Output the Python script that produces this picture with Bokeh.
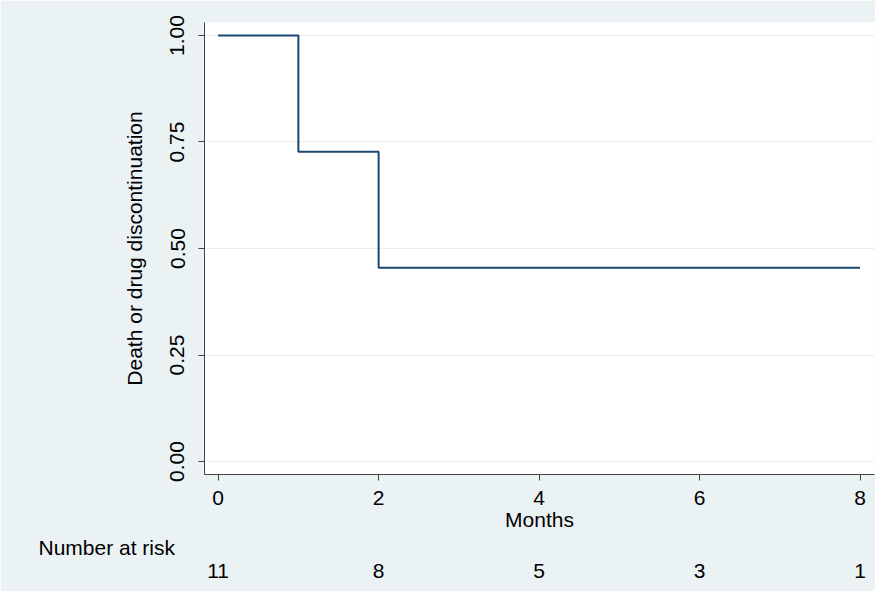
from bokeh.plotting import figure
from bokeh.models import Range1d, FixedTicker, LinearAxis, Title, NumeralTickFormatter
from bokeh.embed import file_html
from bokeh.resources import INLINE

# Kaplan-Meier step data
months = [0, 1, 2, 8]
survival = [1.0, 0.727, 0.455, 0.455]

# Number at risk table
risk_months = [0, 2, 4, 6, 8]
risk_counts = ["11", "8", "5", "3", "1"]

x_ticks = [0, 2, 4, 6, 8]
y_ticks = [0.0, 0.25, 0.5, 0.75, 1.0]

FONT = "Liberation Sans"
FS = "21px"
BG = "#EAF2F3"
NAVY = "#1A476F"

p = figure(width=875, height=591, output_backend="svg", toolbar_location=None,
           x_range=Range1d(-0.17, 8.18), y_range=Range1d(-0.0305, 1.0305),
           x_axis_label="Months", y_axis_label="Death or drug discontinuation",
           min_border_left=204, min_border_right=1, min_border_top=22, min_border_bottom=117)

p.border_fill_color = BG
p.background_fill_color = "white"
p.outline_line_color = None

p.step(months, survival, mode="after", line_color=NAVY, line_width=2)

p.xgrid.visible = False
p.ygrid.ticker = FixedTicker(ticks=y_ticks)
p.ygrid.grid_line_color = "#E6EEF0"
p.ygrid.grid_line_width = 1

xa = p.xaxis[0]
xa.ticker = FixedTicker(ticks=x_ticks)
xa.major_tick_out = 6
xa.major_tick_in = 0
xa.minor_tick_out = 0
xa.minor_tick_in = 0
xa.major_label_standoff = 10
xa.axis_label_standoff = 0
xa.major_label_text_font = FONT
xa.major_label_text_font_size = FS
xa.axis_label_text_font = FONT
xa.axis_label_text_font_size = FS
xa.axis_label_text_font_style = "normal"
xa.axis_label_text_color = "black"
xa.major_label_text_color = "black"
xa.axis_line_color = "#444444"
xa.major_tick_line_color = "#444444"

ya = p.yaxis[0]
ya.ticker = FixedTicker(ticks=y_ticks)
ya.formatter = NumeralTickFormatter(format="0.00")
ya.major_label_orientation = "vertical"
ya.major_tick_out = 6
ya.major_tick_in = 0
ya.minor_tick_out = 0
ya.minor_tick_in = 0
ya.major_label_standoff = 14
ya.axis_label_standoff = 22
ya.major_label_text_font = FONT
ya.major_label_text_font_size = FS
ya.axis_label_text_font = FONT
ya.axis_label_text_font_size = FS
ya.axis_label_text_font_style = "normal"
ya.axis_label_text_color = "black"
ya.major_label_text_color = "black"
ya.axis_line_color = "#444444"
ya.major_tick_line_color = "#444444"

# "Number at risk" heading, placed between the x axis and the risk row
risk_title = Title(text="Number at risk", align="left", offset=-166, standoff=0,
                   text_font=FONT, text_font_size=FS, text_font_style="normal",
                   text_color="black")
p.add_layout(risk_title, "below")

# Number-at-risk row as an extra axis under the heading
risk_axis = LinearAxis(ticker=FixedTicker(ticks=risk_months),
                       major_label_overrides={m: c for m, c in zip(risk_months, risk_counts)})
risk_axis.axis_line_color = None
risk_axis.major_tick_line_color = None
risk_axis.minor_tick_line_color = None
risk_axis.major_tick_out = 0
risk_axis.major_label_standoff = 5
risk_axis.major_label_text_font = FONT
risk_axis.major_label_text_font_size = FS
risk_axis.major_label_text_color = "black"
p.add_layout(risk_axis, "below")

open("out.html", "w").write(file_html(p, INLINE))
